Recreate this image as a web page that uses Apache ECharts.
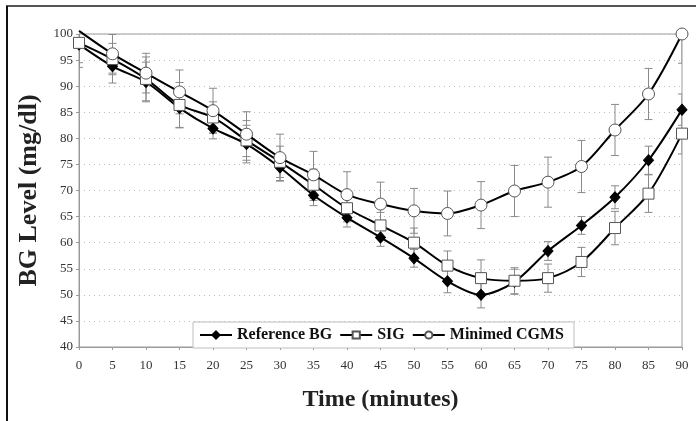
<!DOCTYPE html>
<html><head><meta charset="utf-8">
<script src="https://cdn.jsdelivr.net/npm/echarts@6/dist/echarts.min.js"></script>
<style>html,body{margin:0;padding:0;background:#fff}#c{width:696px;height:421px}</style>
</head><body><div id="c"></div>
<script>
const times = [0,5,10,15,20,25,30,35,40,45,50,55,60,65,70,75,80,85,90];
const refBG = [98.0,93.8,90.8,85.8,81.9,78.9,74.4,69.1,64.8,61.0,57.0,52.6,50.0,52.5,58.4,63.3,68.7,75.8,85.5];
const sig   = [98.3,95.2,91.4,86.4,84.0,79.6,75.5,71.1,66.6,63.3,60.0,55.6,53.2,52.7,53.2,56.3,62.8,69.4,80.9];
const cgms  = [100.6,96.2,92.5,88.9,85.3,80.8,76.3,73.0,69.2,67.4,66.1,65.6,67.2,69.9,71.6,74.6,81.6,88.5,100.0];
const refErr  = [3.5,3.2,3.8,3.8,2.0,3.6,2.5,2.0,1.8,1.7,1.7,2.2,2.5,2.4,1.8,1.7,2.2,2.7,3.0];
const sigErr  = [4.7,3.0,4.2,4.3,3.0,3.8,3.0,3.0,2.6,2.5,2.8,2.8,3.5,2.5,2.7,2.8,3.2,3.6,3.9];
const cgmsErr = [0,3.7,3.8,4.2,4.3,4.3,4.5,4.5,4.4,4.2,4.3,4.3,4.5,4.9,4.8,5.0,4.9,4.9,5.6];
const seriesNames = ['Reference BG','SIG','Minimed CGMS'];
const yTicks = {min:40, max:100, interval:5};
const xTicks = {min:0, max:90, interval:5};

const pairs = (ys) => times.map((t,i)=>[t, ys[i]]);
const errRows = (ys, es) => times.map((t,i)=>[t, ys[i]-es[i], ys[i]+es[i]]);

function errBar(params, api){
  const x = api.value(0), lo = api.value(1), hi = api.value(2);
  if (hi - lo <= 0) return null;
  const p1 = api.coord([x, hi]), p2 = api.coord([x, lo]);
  const w = 4, st = {stroke:'#8a8a8a', lineWidth:1};
  return {type:'group', children:[
    {type:'line', shape:{x1:p1[0],y1:p1[1],x2:p2[0],y2:p2[1]}, style:st},
    {type:'line', shape:{x1:p1[0]-w,y1:p1[1],x2:p1[0]+w,y2:p1[1]}, style:st},
    {type:'line', shape:{x1:p2[0]-w,y1:p2[1],x2:p2[0]+w,y2:p2[1]}, style:st}
  ]};
}

const chart = echarts.init(document.getElementById('c'), null, {renderer:'canvas'});
const serif = 'Liberation Serif';
chart.setOption({
  animation:false,
  backgroundColor:'#fff',
  grid:{left:79, right:14, top:34, bottom:74, show:true, borderColor:'#9a9a9a', borderWidth:1, backgroundColor:'transparent'},
  legend:{
    data:seriesNames, left:193, top:322, orient:'horizontal',
    backgroundColor:'#fff', borderColor:'#bdbdbd', borderWidth:1, borderRadius:0,
    padding:[5,10,5,6], itemGap:7, itemWidth:32, itemHeight:9,
    textStyle:{fontFamily:serif, fontWeight:'bold', fontSize:16, color:'#111'}
  },
  xAxis:{
    type:'value', min:xTicks.min, max:xTicks.max, interval:xTicks.interval,
    name:'Time (minutes)', nameLocation:'middle', nameGap:41,
    nameTextStyle:{fontFamily:serif, fontWeight:'bold', fontSize:24, color:'#222'},
    axisLine:{show:true, lineStyle:{color:'#9a9a9a'}},
    axisTick:{show:true, inside:false, length:3, lineStyle:{color:'#9a9a9a'}},
    axisLabel:{fontFamily:serif, fontSize:13, color:'#333', margin:12},
    splitLine:{show:false}
  },
  yAxis:{
    type:'value', min:yTicks.min, max:yTicks.max, interval:yTicks.interval,
    name:'BG Level (mg/dl)', nameLocation:'middle', nameGap:36, nameRotate:90,
    nameTextStyle:{fontFamily:serif, fontWeight:'bold', fontSize:26, color:'#222'},
    axisLine:{show:true, lineStyle:{color:'#9a9a9a'}},
    axisTick:{show:true, inside:false, length:3, lineStyle:{color:'#9a9a9a'}},
    axisLabel:{fontFamily:serif, fontSize:13, color:'#333', margin:6},
    splitLine:{show:true, lineStyle:{color:'#bdbdbd', type:[1,4], width:1}}
  },
  graphic:[
    {type:'line', shape:{x1:6, y1:6, x2:696, y2:6}, style:{stroke:'#555', lineWidth:2}, z:100},
    {type:'line', shape:{x1:7, y1:6, x2:7, y2:421}, style:{stroke:'#111', lineWidth:2}, z:100}
  ],
  series:[
    {type:'custom', name:'errRef', renderItem:errBar, data:errRows(refBG, refErr), clip:true, z:1, silent:true},
    {type:'custom', name:'errSig', renderItem:errBar, data:errRows(sig, sigErr), clip:true, z:1, silent:true},
    {type:'custom', name:'errCgms', renderItem:errBar, data:errRows(cgms, cgmsErr), clip:true, z:1, silent:true},
    {type:'line', name:seriesNames[0], data:pairs(refBG), smooth:0.3, clip:false, z:3,
      symbol:'diamond', symbolSize:[10,11],
      lineStyle:{color:'#000', width:2}, itemStyle:{color:'#000', borderColor:'#000', borderWidth:1}},
    {type:'line', name:seriesNames[1], data:pairs(sig), smooth:0.3, clip:false, z:4,
      symbol:'rect', symbolSize:11,
      lineStyle:{color:'#000', width:2}, itemStyle:{color:'#fff', borderColor:'#555', borderWidth:1}},
    {type:'line', name:seriesNames[2], data:pairs(cgms), smooth:0.3, clip:false, z:5,
      symbol:(v,p)=> (p.dataIndex===0 ? 'none' : 'circle'), symbolSize:12,
      lineStyle:{color:'#000', width:2}, itemStyle:{color:'#fff', borderColor:'#555', borderWidth:1}}
  ]
});
</script></body></html>
